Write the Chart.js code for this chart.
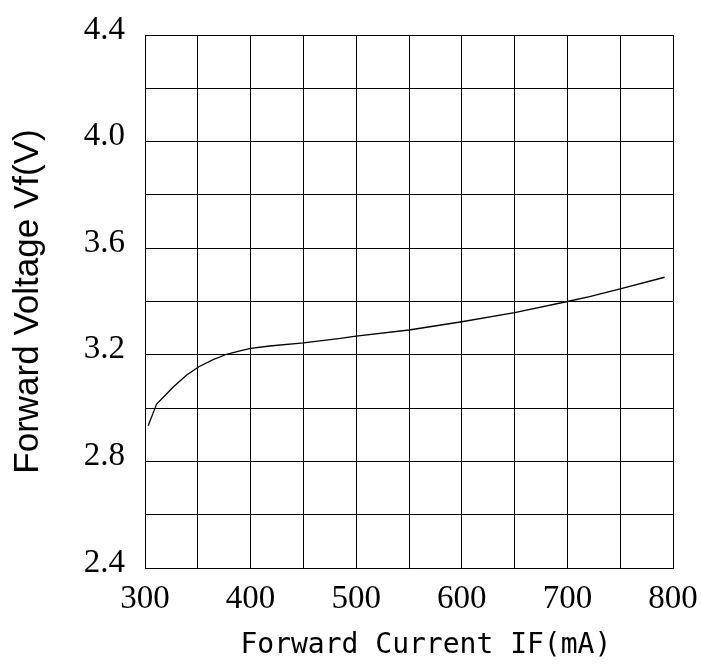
<!DOCTYPE html>
<html>
<head>
<meta charset="utf-8">
<script src="https://cdn.jsdelivr.net/npm/chart.js@4/dist/chart.umd.min.js"></script>
<style>
    html, body { margin: 0; padding: 0; background: #ffffff; }
    #wrap { width: 701px; height: 669px; }
</style>
</head>
<body>
<div id="wrap"><canvas id="vfChart" width="701" height="669"></canvas></div>
<script>
/* ==========================================================================
   Forward Voltage vs Forward Current
   ========================================================================== */

// Forward current IF (mA)
const currentMa = [303, 311, 327, 339.5, 351, 365, 378, 390, 400, 418, 450, 485, 500, 550, 600, 650, 700, 721, 750, 792];
// Forward voltage Vf (V)
const voltageV = [2.934, 3.015, 3.080, 3.124, 3.155, 3.183, 3.203, 3.215, 3.224, 3.233, 3.245, 3.262, 3.270, 3.293, 3.324, 3.358, 3.400, 3.418, 3.447, 3.491];

// Labelled ticks
const xTickLabels = [300, 400, 500, 600, 700, 800];
const yTickLabels = ['2.4', '2.8', '3.2', '3.6', '4.0', '4.4'];

const points = currentMa.map((x, i) => ({ x: x, y: voltageV[i] }));

const ctx = document.getElementById('vfChart').getContext('2d');

new Chart(ctx, {
    type: 'scatter',
    data: {
        datasets: [{
            label: 'Vf',
            data: points,
            showLine: true,
            borderColor: '#000000',
            borderWidth: 1.3,
            pointRadius: 0,
            tension: 0,
            fill: false
        }]
    },
    options: {
        responsive: false,
        animation: false,
        layout: {
            padding: { top: 35, right: 28, left: 0, bottom: 0 }
        },
        plugins: {
            legend: { display: false },
            tooltip: { enabled: false }
        },
        scales: {
            x: {
                type: 'linear',
                min: 300,
                max: 800,
                grid: {
                    color: '#000000',
                    lineWidth: 1,
                    drawTicks: false
                },
                border: { color: '#000000', width: 1 },
                ticks: {
                    stepSize: 50,
                    padding: 12,
                    color: '#000000',
                    maxRotation: 0,
                    autoSkip: false,
                    font: { family: "'Liberation Serif', 'Times New Roman', serif", size: 33 },
                    callback: function(value) {
                        return xTickLabels.includes(value) ? String(value) : '';
                    }
                },
                title: {
                    display: true,
                    text: '  Forward Current IF(mA)',
                    color: '#000000',
                    font: { family: "'DejaVu Sans Mono', monospace", size: 28 },
                    padding: { top: 0, bottom: 6 }
                },
                afterFit: function(scale) {
                    scale.height = 101;
                    // keep the plot edges fixed, labels may overhang
                    scale.paddingLeft = 0;
                    scale.paddingRight = 0;
                }
            },
            y: {
                type: 'linear',
                min: 2.4,
                max: 4.4,
                grid: {
                    color: '#000000',
                    lineWidth: 1,
                    drawTicks: false
                },
                border: { color: '#000000', width: 1 },
                ticks: {
                    stepSize: 0.2,
                    padding: 20,
                    labelOffset: -5,
                    color: '#000000',
                    autoSkip: false,
                    font: { family: "'Liberation Serif', 'Times New Roman', serif", size: 33 },
                    callback: function(value) {
                        const label = value.toFixed(1);
                        return yTickLabels.includes(label) && Math.abs(value - Number(label)) < 1e-6 ? label : '';
                    }
                },
                title: {
                    display: true,
                    text: 'Forward Voltage Vf(V)',
                    color: '#000000',
                    font: { family: "'Liberation Sans', Arial, sans-serif", size: 35 },
                    padding: { top: 7, bottom: 0 }
                },
                afterFit: function(scale) {
                    scale.width = 145;
                    scale.paddingTop = 0;
                    scale.paddingBottom = 0;
                }
            }
        }
    }
});
</script>
</body>
</html>
